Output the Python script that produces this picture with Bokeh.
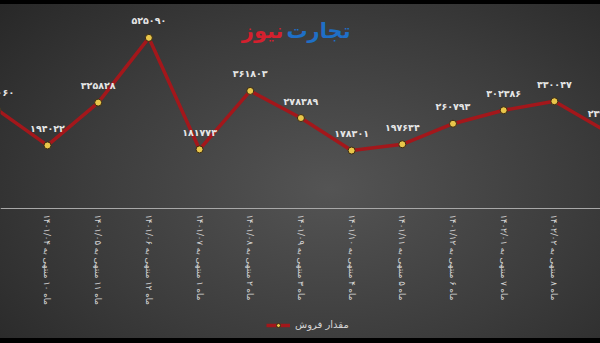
import math

from bokeh.core.properties import value
from bokeh.embed import file_html
from bokeh.models import (CDSView, ColumnDataSource, FixedTicker, IndexFilter, Label,
                          Legend, LegendItem, Range1d)
from bokeh.plotting import figure
from bokeh.resources import INLINE

# Monthly sales figures (rolling window of reporting months)
months = [
    "ماه ۹ منتهی به ۱۴۰۱/۰۳",
    "ماه ۱۰ منتهی به ۱۴۰۱/۰۴",
    "ماه ۱۱ منتهی به ۱۴۰۱/۰۵",
    "ماه ۱۲ منتهی به ۱۴۰۱/۰۶",
    "ماه ۱ منتهی به ۱۴۰۱/۰۷",
    "ماه ۲ منتهی به ۱۴۰۱/۰۸",
    "ماه ۳ منتهی به ۱۴۰۱/۰۹",
    "ماه ۴ منتهی به ۱۴۰۱/۱۰",
    "ماه ۵ منتهی به ۱۴۰۱/۱۱",
    "ماه ۶ منتهی به ۱۴۰۱/۱۲",
    "ماه ۷ منتهی به ۱۴۰۲/۰۱",
    "ماه ۸ منتهی به ۱۴۰۲/۰۲",
    "ماه ۹ منتهی به ۱۴۰۲/۰۳",
]
sales = [305060, 194022, 325828, 525090, 181773, 361803, 278389,
         178301, 197634, 260793, 302386, 330047, 239512]
series_name = "مقدار فروش"

FA_DIGITS = str.maketrans("0123456789", "۰۱۲۳۴۵۶۷۸۹")
FONT = "DejaVu Sans"
X_START, X_END = 0.073, 11.91

idx = list(range(len(months)))
src = ColumnDataSource(dict(
    x=idx,
    y=sales,
    base=[0] * len(months),
    month=months,
    lbl=[str(v).translate(FA_DIGITS) for v in sales],
))

# The frame fills the whole canvas; the category axis sits on the zero line.
p = figure(
    width=600, height=343,
    output_backend="svg", toolbar_location=None,
    x_range=Range1d(X_START, X_END), y_range=Range1d(-415400, 640000),
    min_border_left=0, min_border_right=0, min_border_top=0, min_border_bottom=0,
    background_fill_alpha=0, border_fill_alpha=0, outline_line_color=None,
)
p.styles = {
    "background": (
        "linear-gradient(to bottom, #000 0px, #000 4px, rgba(0,0,0,0) 4px, "
        "rgba(0,0,0,0) 338px, #000 338px), "
        "radial-gradient(ellipse 75% 85% at 55% 55%, #545454 0%, #3c3c3c 55%, #262626 100%)"
    )
}

p.xgrid.visible = False
p.ygrid.visible = False
p.yaxis.visible = False

ax = p.xaxis[0]
ax.fixed_location = 0
ax.ticker = FixedTicker(ticks=[])
ax.axis_line_color = "#a8a8a8"
ax.axis_line_width = 1
ax.major_tick_line_color = None
ax.minor_tick_line_color = None

# Category labels hang below the zero line, rotated to read downwards;
# only the months that fall inside the visible x range get a label.
in_view = [i for i in idx if X_START <= i <= X_END]
p.text("x", "base", text="month", source=src, view=CDSView(filter=IndexFilter(in_view)),
       angle=-math.pi / 2, y_offset=6, text_align="left", text_baseline="middle",
       text_color="#d4d4d4", text_font=value(FONT), text_font_size="8.6px")

line = p.line("x", "y", source=src, line_color="#a3171b", line_width=3.5)
dots = p.scatter("x", "y", source=src, size=7, fill_color="#e9c64a",
                 line_color="#3a2a10", line_width=1)

p.text("x", "y", text="lbl", source=src, y_offset=-17,
       text_align="center", text_baseline="middle",
       text_color="#e6e6e6", text_font=value(FONT),
       text_font_size="9.5px", text_font_style="bold")

legend = Legend(
    items=[LegendItem(label=series_name, renderers=[line, dots])],
    orientation="horizontal", location=(266, 13),
    background_fill_alpha=0, border_line_color=None,
    label_text_color="#d4d4d4", label_text_font=FONT, label_text_font_size="10px",
    glyph_width=24, glyph_height=10, padding=2, margin=0,
)
p.add_layout(legend)

# Masthead
p.add_layout(Label(x=286, y=301, x_units="screen", y_units="screen",
                   text="تجارت", text_color="#1f6fc6", text_font=FONT,
                   text_font_size="21px", text_font_style="bold",
                   text_align="left", text_baseline="bottom"))
p.add_layout(Label(x=283, y=301, x_units="screen", y_units="screen",
                   text="نیوز", text_color="#d4202e", text_font=FONT,
                   text_font_size="21px", text_font_style="bold",
                   text_align="right", text_baseline="bottom"))

open("out.html", "w").write(file_html(p, INLINE))
